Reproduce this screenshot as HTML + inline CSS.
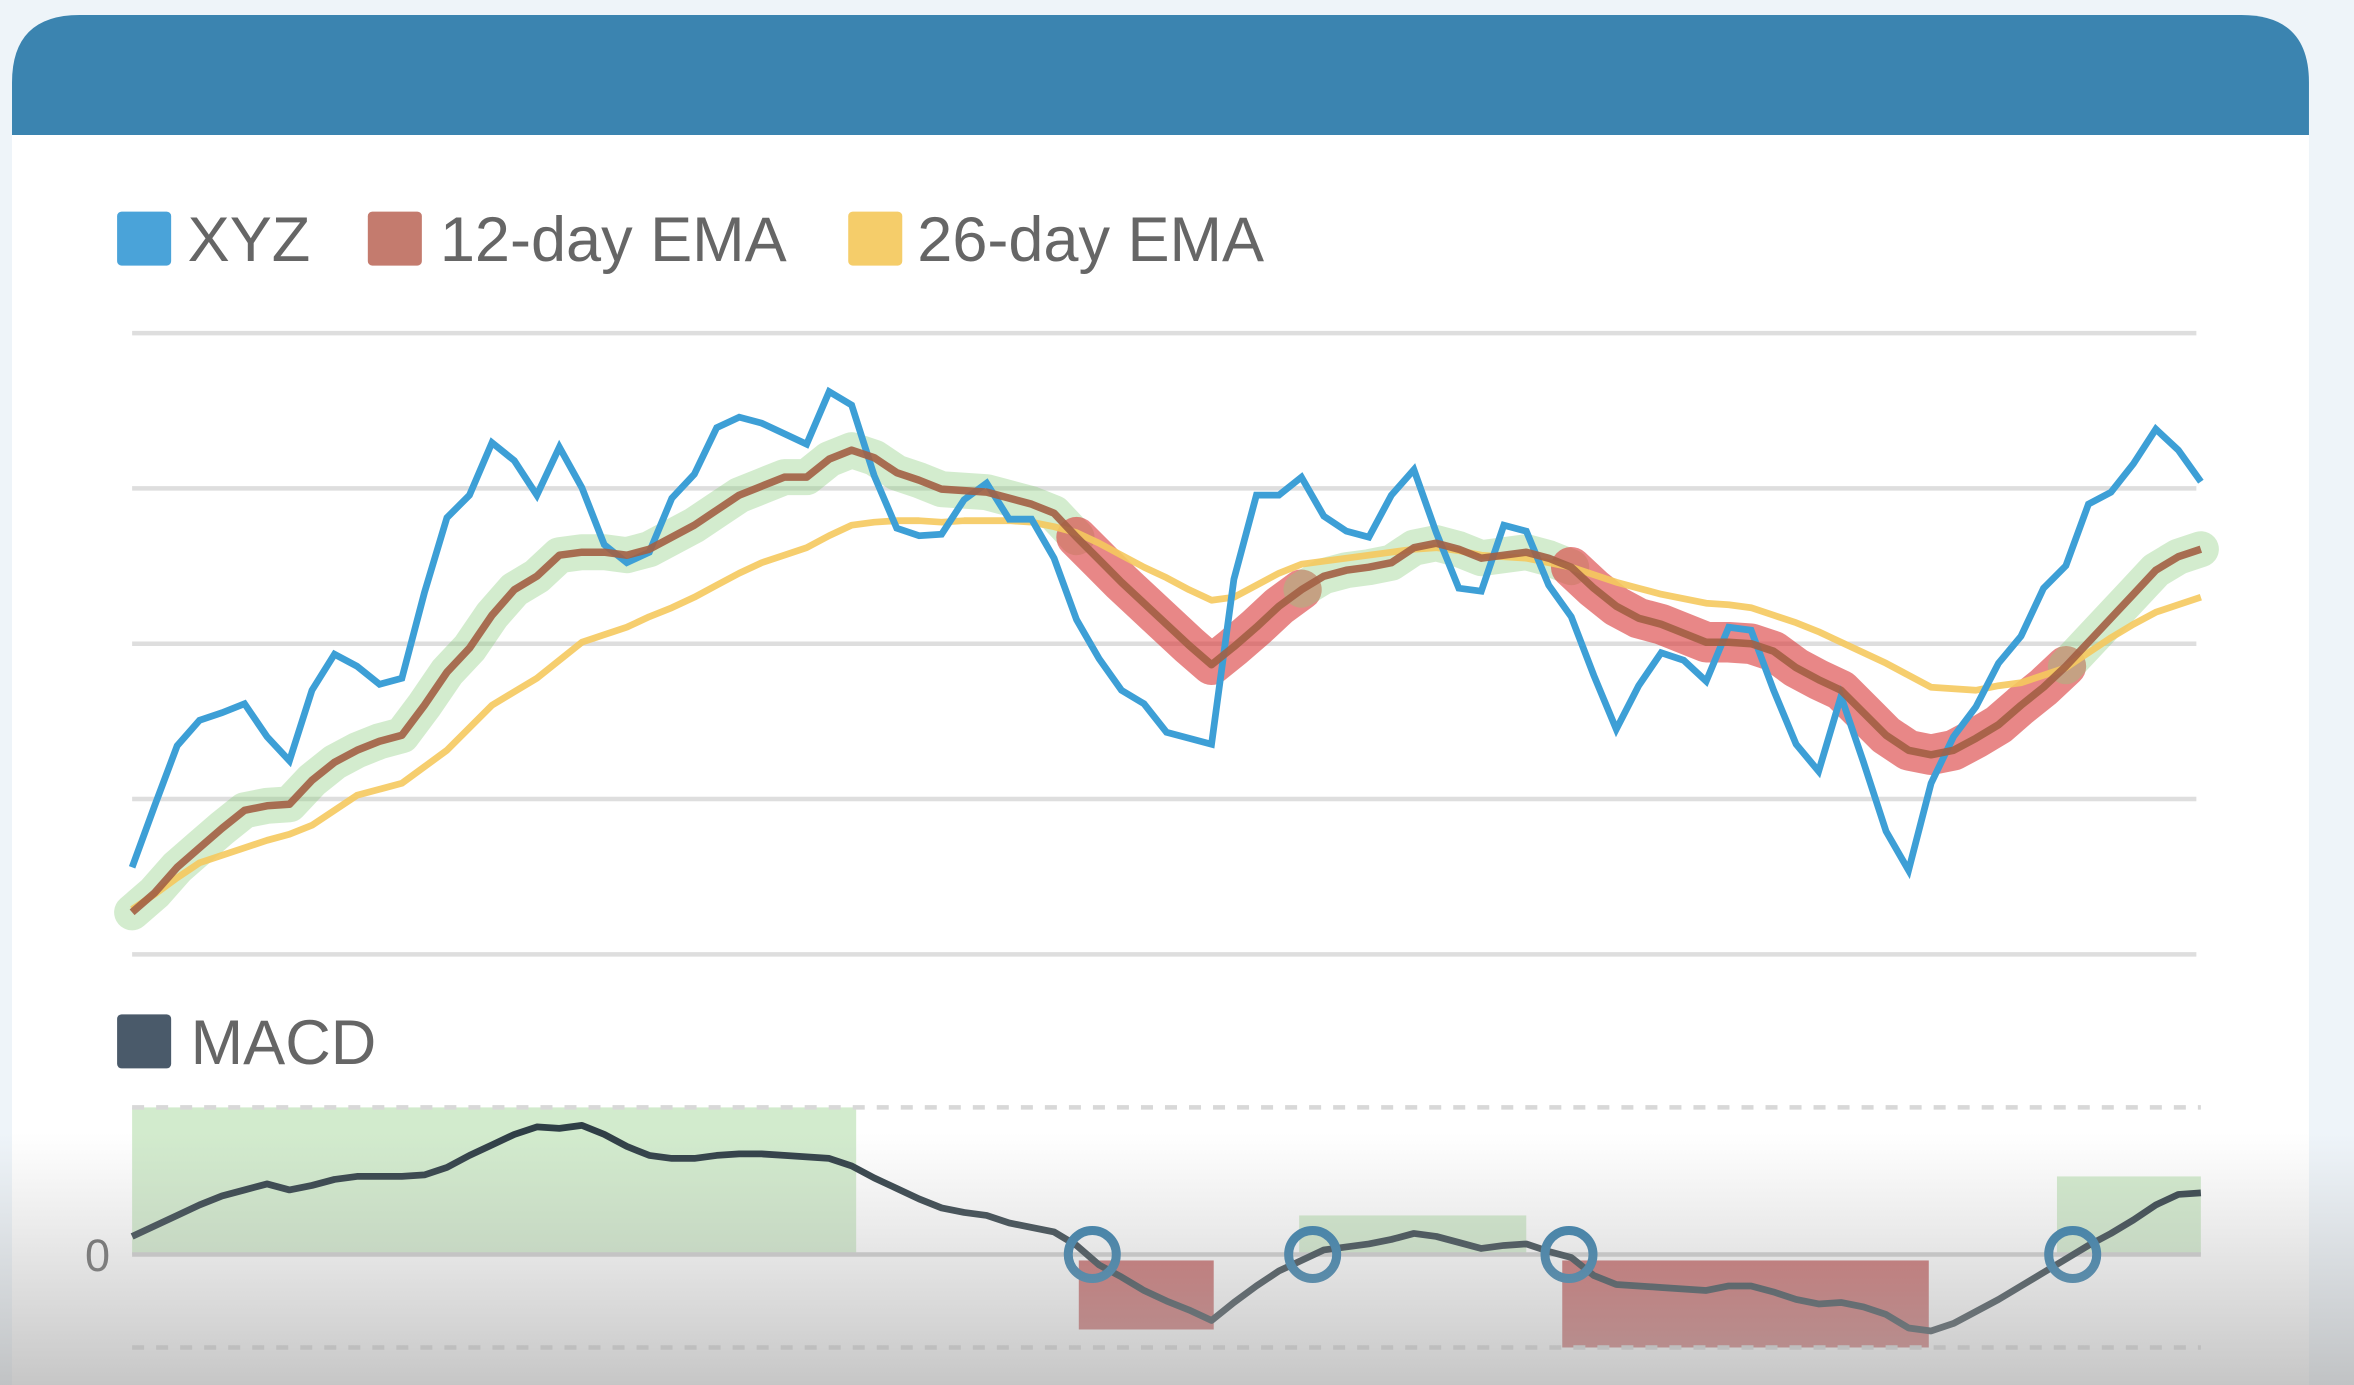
<!DOCTYPE html>
<html><head><meta charset="utf-8"><style>
html,body{margin:0;padding:0;background:#eef4f9;}
svg{display:block;}
text{font-family:"Liberation Sans",sans-serif;}
</style></head><body>
<svg id="chart" width="2354" height="1385" viewBox="0 0 1568 923" preserveAspectRatio="none" xmlns="http://www.w3.org/2000/svg">
<defs>
<linearGradient id="fade" x1="0" y1="0" x2="0" y2="1">
<stop offset="0" stop-color="#b0b0b0" stop-opacity="0"/>
<stop offset="1" stop-color="#a8a8a8" stop-opacity="0.65"/>
</linearGradient>
</defs>
<rect x="0" y="0" width="1568" height="923" fill="#eef4f9"/>
<rect x="8" y="60" width="1530" height="863" fill="#ffffff"/>
<path d="M8,90 L8,55 Q8,10 53,10 L1493,10 Q1538,10 1538,55 L1538,90 Z" fill="#3b84b0"/>
<g>
<rect x="78" y="141" width="36" height="36" rx="3" fill="#4aa3d9"/>
<text x="125" y="174" font-size="42" fill="#666">XYZ</text>
<rect x="245" y="141" width="36" height="36" rx="3" fill="#c47b6e"/>
<text x="293" y="174" font-size="42" fill="#666">12-day EMA</text>
<rect x="565" y="141" width="36" height="36" rx="3" fill="#f5cd6a"/>
<text x="611" y="174" font-size="42" fill="#666">26-day EMA</text>
</g>
<g id="grid"></g>
<g id="bands"></g>
<g id="lines"></g>
<g>
<rect x="78" y="676" width="36" height="36" rx="3" fill="#4a5a6a"/>
<text x="127" y="709" font-size="42" fill="#666">MACD</text>
</g>
<g id="macd"></g>
<rect x="0" y="755" width="1568" height="168" fill="url(#fade)"/>
</svg>
<script>
const xyz=[5.8,9.9,13.9,15.6,16.1,16.7,14.5,12.9,17.6,20.0,19.2,18.0,18.4,24.1,29.1,30.6,34.1,32.9,30.6,33.8,31.1,27.3,26.1,26.8,30.4,32.0,35.1,35.8,35.4,34.7,34.0,37.5,36.6,31.9,28.4,27.9,28.0,30.3,31.4,29.0,29.0,26.4,22.3,19.7,17.6,16.7,14.8,14.4,14.0,25.0,30.6,30.6,31.8,29.2,28.2,27.8,30.6,32.3,28.1,24.4,24.2,28.6,28.2,24.6,22.5,18.6,15.0,17.9,20.1,19.6,18.2,21.8,21.6,17.6,14.0,12.2,17.2,12.8,8.2,5.6,11.4,14.5,16.5,19.4,21.2,24.4,25.9,30.0,30.8,32.7,35.0,33.6,31.5];
const ema12=[2.8,4.1,5.8,7.1,8.4,9.6,9.9,10.0,11.6,12.8,13.6,14.2,14.6,16.6,18.8,20.4,22.6,24.3,25.2,26.6,26.8,26.8,26.6,27.0,27.8,28.6,29.6,30.6,31.2,31.8,31.8,33.0,33.6,33.1,32.1,31.6,31.0,30.9,30.8,30.4,30.0,29.4,27.8,26.3,24.8,23.4,22.0,20.6,19.3,20.5,21.8,23.2,24.3,25.2,25.6,25.8,26.1,27.1,27.4,27.0,26.4,26.6,26.8,26.4,25.8,24.4,23.2,22.4,22.0,21.4,20.8,20.8,20.7,20.2,19.1,18.3,17.6,16.1,14.6,13.6,13.3,13.6,14.4,15.3,16.6,17.8,19.2,20.8,22.4,24.0,25.6,26.5,27.0];
const ema26=[3.0,4.0,5.1,6.1,6.6,7.1,7.6,8.0,8.6,9.6,10.6,11.0,11.4,12.5,13.6,15.1,16.6,17.5,18.4,19.6,20.8,21.3,21.8,22.5,23.1,23.8,24.6,25.4,26.1,26.6,27.1,27.9,28.6,28.8,28.9,28.9,28.8,28.9,28.9,28.9,28.8,28.5,28.1,27.4,26.6,25.8,25.1,24.3,23.6,23.8,24.6,25.4,26.0,26.2,26.4,26.6,26.8,27.0,27.1,26.9,26.6,26.5,26.4,26.1,25.8,25.3,24.8,24.4,24.0,23.7,23.4,23.3,23.1,22.6,22.1,21.5,20.8,20.1,19.4,18.6,17.8,17.7,17.6,17.9,18.1,18.6,19.1,20.1,21.1,22.0,22.8,23.3,23.8];
const macd=[1.2,1.9,2.6,3.3,3.9,4.3,4.7,4.3,4.6,5.0,5.2,5.2,5.2,5.3,5.8,6.6,7.3,8.0,8.5,8.4,8.6,8.0,7.2,6.6,6.4,6.4,6.6,6.7,6.7,6.6,6.5,6.4,5.9,5.1,4.4,3.7,3.1,2.8,2.6,2.1,1.8,1.5,0.6,-0.7,-1.5,-2.4,-3.1,-3.7,-4.4,-3.2,-2.1,-1.1,-0.4,0.3,0.5,0.7,1.0,1.4,1.2,0.8,0.4,0.6,0.7,0.2,-0.2,-1.4,-2.0,-2.1,-2.2,-2.3,-2.4,-2.1,-2.1,-2.5,-3.0,-3.3,-3.2,-3.5,-4.0,-4.9,-5.1,-4.6,-3.8,-3.0,-2.1,-1.2,-0.3,0.6,1.4,2.3,3.3,4.0,4.1];
const bandStarts=[0,42,52,64,86];
const bandEnds=[42,52,64,86,92];
const bandTypes=["bull","bear","bull","bear","bull"];
const regionStarts=[0,42.1,51.9,63.6,85.6];
const regionEnds=[32.2,48.1,62,79.9,92];
const regionTops=[9.8,-5.0,2.6,-6.2,5.2];
const crossings=[42.7,52.5,63.9,86.3];
const priceDomain=[0,41.4];
const macdDomain=[-6.2,9.8];

const NS="http://www.w3.org/2000/svg";
const X0=88,X1=1466,N=xyz.length;
function xs(i){return X0+(X1-X0)*i/(N-1);}
function yp(v){return 636-(v-priceDomain[0])/(priceDomain[1]-priceDomain[0])*(636-222);}
function ym(v){return 898-(v-macdDomain[0])/(macdDomain[1]-macdDomain[0])*(898-738);}
function mk(tag,attrs,parent){const e=document.createElementNS(NS,tag);for(const k in attrs)e.setAttribute(k,attrs[k]);parent.appendChild(e);return e;}
function pts(arr,ys,a,b){let s=[];for(let i=a;i<=b;i++)s.push(xs(i).toFixed(1)+","+ys(arr[i]).toFixed(1));return s.join(" ");}

const grid=document.getElementById('grid');
for(let k=0;k<5;k++){
  const v=priceDomain[0]+(priceDomain[1]-priceDomain[0])*k/4;
  const l=mk('line',{x1:X0,x2:1463,y1:yp(v),y2:yp(v),stroke:'#dedede','stroke-width':3},grid);
  
  
}
const bands=document.getElementById('bands');
for(let b=0;b<bandStarts.length;b++){
  const bull=bandTypes[b]==="bull";
  const p=mk('polyline',{points:pts(ema12,yp,bandStarts[b],bandEnds[b]),fill:'none',stroke:bull?'rgba(140,205,125,0.38)':'rgba(218,62,62,0.62)','stroke-width':bull?24:27,'stroke-linecap':'round','stroke-linejoin':'round'},bands);
  
  
}
const lines=document.getElementById('lines');
const l26=mk('polyline',{points:pts(ema26,yp,0,N-1),fill:'none',stroke:'#f5c95e','stroke-width':4.5,'stroke-linejoin':'round',opacity:0.9},lines);


const lx=mk('polyline',{points:pts(xyz,yp,0,N-1),fill:'none',stroke:'#3d9fd6','stroke-width':4.5,'stroke-linejoin':'miter'},lines);


const l12=mk('polyline',{points:pts(ema12,yp,0,N-1),fill:'none',stroke:'#a25f44','stroke-width':5,'stroke-linejoin':'round',opacity:0.9},lines);



const m=document.getElementById('macd');
for(let r=0;r<regionStarts.length;r++){
  const top=regionTops[r];
  const xa=xs(regionStarts[r]),xb=xs(regionEnds[r]);
  const y0=top>0?ym(top):ym(0)+4, y1=top>0?ym(0):ym(top);
  const rc=mk('rect',{x:xa,y:y0,width:xb-xa,height:y1-y0,fill:top>0?'#d2ebcd':'#c96a6a'},m);
  
  
}
[macdDomain[1],macdDomain[0]].forEach(v=>{
  const d=mk('line',{x1:X0,x2:1466,y1:ym(v),y2:ym(v),stroke:'#d8d8d8','stroke-width':3,'stroke-dasharray':'8,8'},m);
  
  
});
const z=mk('line',{x1:X0,x2:1466,y1:ym(0),y2:ym(0),stroke:'#cfcfcf','stroke-width':3},m);


const zt=mk('text',{x:65,y:ym(0)+11,'font-size':30,fill:'#666','text-anchor':'middle'},m);
zt.textContent='0';


const ml=mk('polyline',{points:pts(macd,ym,0,N-1),fill:'none',stroke:'#2f3e46','stroke-width':4.5,'stroke-linejoin':'round'},m);


crossings.forEach(c=>{
  const ci=mk('circle',{cx:xs(c),cy:ym(0),r:16,fill:'none',stroke:'#2a78a8','stroke-width':6},m);
  
  
});
</script>
</body></html>
